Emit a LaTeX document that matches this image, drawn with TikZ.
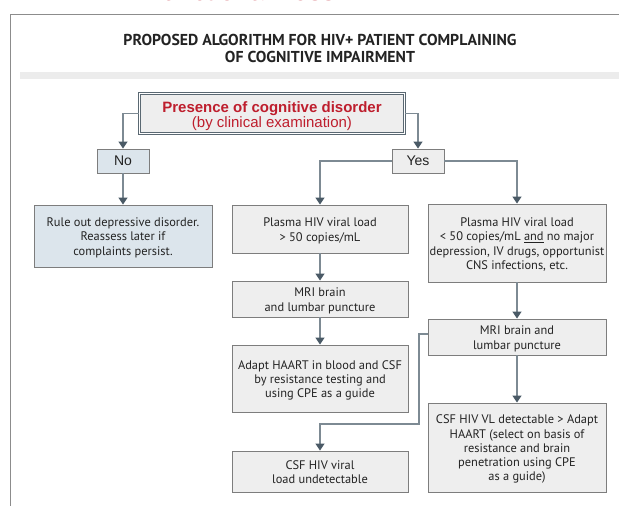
\documentclass[tikz,border=0pt]{standalone}
\usepackage{fontspec}
\setmainfont{Liberation Sans}
\newfontfamily\dinfont{PT Sans}
\newfontfamily\titlefont{PT Sans}
\usetikzlibrary{arrows.meta}
\definecolor{redtxt}{RGB}{190,30,45}
\definecolor{boxfill}{RGB}{238,238,238}
\definecolor{bluefill}{RGB}{220,229,236}
\definecolor{boxline}{RGB}{125,125,125}
\definecolor{connline}{RGB}{125,138,147}
\definecolor{arrowc}{RGB}{74,90,102}
\definecolor{mainline}{RGB}{90,104,114}
\definecolor{txt}{RGB}{35,35,35}
\definecolor{framec}{RGB}{140,140,140}
\definecolor{barc}{RGB}{236,236,236}
\newcommand\boxtxt[2][2pt]{\raisebox{-#1}[\height][\depth]{\renewcommand\arraystretch{1}\begin{tabular}{@{}c@{}}#2\end{tabular}}}
\begin{document}
\begin{tikzpicture}[x=1pt,y=-1pt,
  box/.style={draw=boxline, fill=boxfill, line width=0.9pt, inner sep=0pt,
    text=txt, font=\dinfont\fontsize{12.4}{14.3}\selectfont},
  bluebox/.style={box, fill=bluefill},
  smallbox/.style={box, font=\fontsize{14}{16}\selectfont},
  conn/.style={draw=connline, line width=1.5pt,
    -{Triangle[length=7pt,width=9pt,fill=arrowc,color=arrowc]}}
]
\useasboundingbox (0,0) rectangle (619,506);
\begin{scope}
\clip (0,0) rectangle (619,506);
\node[anchor=base west, text=redtxt, inner sep=0pt, font=\fontsize{27}{27}\selectfont] (hdr) at (146,1) {Functional Loss};
\end{scope}
\draw[framec, line width=0.9pt] (10,506) -- (10,14) -- (619,14);
\fill[barc] (20,72) rectangle (619,79);
\node[align=center, text=txt, inner sep=0pt, font=\titlefont\bfseries\fontsize{15.8}{17}\selectfont] (title) at (320,48.5)
  {PROPOSED ALGORITHM FOR HIV+ PATIENT COMPLAINING\\OF COGNITIVE IMPAIRMENT};

\node[draw=mainline, double=white, double distance=1.4pt, line width=1.1pt, fill=boxfill,
  minimum width=265pt, minimum height=40pt, inner sep=0pt, text=redtxt,
  font=\fontsize{15}{15}\selectfont] (main) at (272,113.5)
  {\boxtxt[3pt]{\textbf{Presence of cognitive disorder}\\(by clinical examination)}};

\node[smallbox, fill=bluefill, minimum width=52pt, minimum height=24pt] (no) at (123,161) {No};
\node[smallbox, minimum width=52pt, minimum height=24pt] (yes) at (418,161) {Yes};

\node[bluebox, minimum width=178pt, minimum height=62pt] (rule) at (123,236)
  {\boxtxt{Rule out depressive disorder.\\Reassess later if\\complaints persist.}};
\node[box, minimum width=176pt, minimum height=48pt] (mp) at (320,229)
  {\boxtxt{Plasma HIV viral load\\> 50 copies/mL}};
\node[box, minimum width=178pt, minimum height=78pt] (rp) at (517,243)
  {\boxtxt{Plasma HIV viral load\\< 50 copies/mL \underline{and} no major\\depression, IV drugs, opportunist\\CNS infections, etc.}};
\node[box, minimum width=176pt, minimum height=36pt] (mm) at (320,299)
  {\boxtxt{MRI brain\\and lumbar puncture}};
\node[box, minimum width=176pt, minimum height=67pt] (adapt) at (320,378.5)
  {\boxtxt{Adapt HAART in blood and CSF\\by resistance testing and\\using CPE as a guide}};
\node[box, minimum width=178pt, minimum height=36pt] (rm) at (517,337)
  {\boxtxt{MRI brain and\\lumbar puncture}};
\node[box, minimum width=178pt, minimum height=89pt] (rc) at (517,447.5)
  {\boxtxt{CSF HIV VL detectable > Adapt\\HAART (select on basis of\\resistance and brain\\penetration using CPE\\as a guide)}};
\node[box, minimum width=176pt, minimum height=41pt] (cu) at (320,471.5)
  {\boxtxt{CSF HIV viral\\load undetectable}};
\coordinate (k1) at (419,424);

\draw[conn] (main.west) -| (no.north);
\draw[conn] (main.east) -| (yes.north);
\draw[conn] (no.south) -- (rule.north);
\draw[conn] (yes.west) -| (mp.north);
\draw[conn] (yes.east) -| (rp.north);
\draw[conn] (mp.south) -- (mm.north);
\draw[conn] (mm.south) -- (adapt.north);
\draw[conn] (rp.south) -- (rm.north);
\draw[conn] (rm.south) -- (rc.north);
\draw[conn] ([yshift=3pt]rm.west) -| (k1) -| (cu.north);
\end{tikzpicture}
\end{document}
